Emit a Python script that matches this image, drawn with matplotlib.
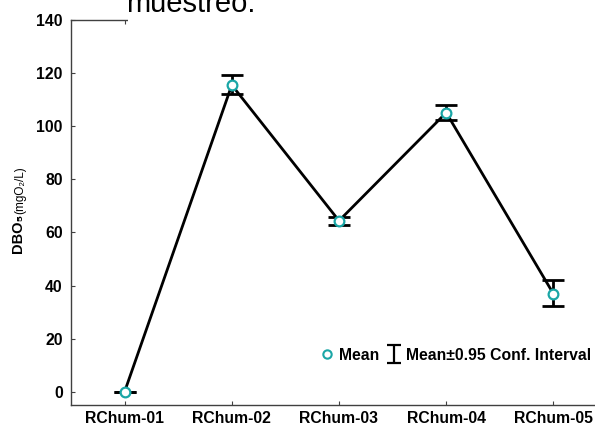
import matplotlib.pyplot as plt
from matplotlib.lines import Line2D
from matplotlib.patches import Rectangle
from matplotlib.path import Path

plt.rcParams['font.family'] = ['Liberation Sans', 'DejaVu Sans']

# DBO5 por punto de muestreo: media y limites del intervalo de confianza 0.95
sites = ['RChum-01', 'RChum-02', 'RChum-03', 'RChum-04', 'RChum-05']
mean = [0.0, 115.5, 64.4, 105.1, 36.9]
ci_low = [0.0, 112.0, 62.8, 102.3, 32.1]
ci_high = [0.0, 119.3, 65.9, 107.9, 42.1]

x = list(range(1, len(sites) + 1))
err_lo = [m - lo for m, lo in zip(mean, ci_low)]
err_hi = [hi - m for m, hi in zip(mean, ci_high)]

teal = '#1aa6a6'
fs = 11.3

fig = plt.figure(figsize=(5.95, 4.26), dpi=100)
ax = fig.add_axes([71 / 595, 1 - 405 / 426, 536 / 595, 385 / 426])

ax.errorbar(x, mean, yerr=[err_lo, err_hi], fmt='none', ecolor='black',
            elinewidth=2, capsize=8, capthick=2, zorder=2)
ax.plot(x, mean, color='black', lw=2, zorder=3)
ax.plot(x, mean, 'o', ms=7, mfc='white', mec=teal, mew=1.6, zorder=4)

ax.set_xlim(0.5, 5.5)
ax.set_ylim(-5, 140)
ax.set_xticks(x)
ax.set_xticklabels(sites, fontweight='bold', fontsize=fs)
ax.set_yticks(range(0, 141, 20))
ax.set_yticklabels([str(v) for v in range(0, 141, 20)], fontweight='bold', fontsize=fs)
ax.tick_params(direction='in', length=3, width=0.8, color='#404040', top=True)
ax.tick_params(axis='x', pad=4)
ax.tick_params(axis='y', pad=6)
for s in ax.spines.values():
    s.set_color('#404040')
    s.set_linewidth(1.0)

# titulo del eje y: DBO5 en negrita y las unidades mas pequenas
fig.text(18 / 595, 1 - 233 / 426, 'DBO\u2085', rotation=90, ha='center',
         va='center', fontsize=10.5, fontweight='bold')
fig.text(20 / 595, 1 - 190 / 426, '(mgO\u2082/L)', rotation=90, ha='center',
         va='center', fontsize=8.5)

# leyenda: circulo de la media y simbolo en I del intervalo
ibeam = Path([(-0.75, 1), (0.75, 1), (0, 1), (0, -1), (-0.75, -1), (0.75, -1)],
             [Path.MOVETO, Path.LINETO, Path.MOVETO, Path.LINETO,
              Path.MOVETO, Path.LINETO])
h_mean = Line2D([], [], ls='none', marker='o', ms=6, mfc='white', mec=teal, mew=1.5)
h_ci = Line2D([], [], ls='none', marker=ibeam, ms=13, mfc='none', mec='black', mew=1.6)
fig.legend([h_mean, h_ci], ['Mean', 'Mean\u00b10.95 Conf. Interval'],
           loc='center right', bbox_to_anchor=(0.993, 1 - 355 / 426),
           ncol=2, frameon=False, handlelength=0.9, handletextpad=0.3,
           columnspacing=0.5, borderpad=0, borderaxespad=0,
           prop={'weight': 'bold', 'size': fs})

# texto del documento que tapa parte del marco superior
fig.patches.append(Rectangle((128 / 595, 1 - 25 / 426), 1, 25 / 426,
                             transform=fig.transFigure, facecolor='white',
                             edgecolor='none', zorder=10))
fig.text(126 / 595, 1 - 12 / 426, 'muestreo.', fontsize=21, va='baseline',
         ha='left', zorder=11)

fig.savefig('out.png', dpi=100)
